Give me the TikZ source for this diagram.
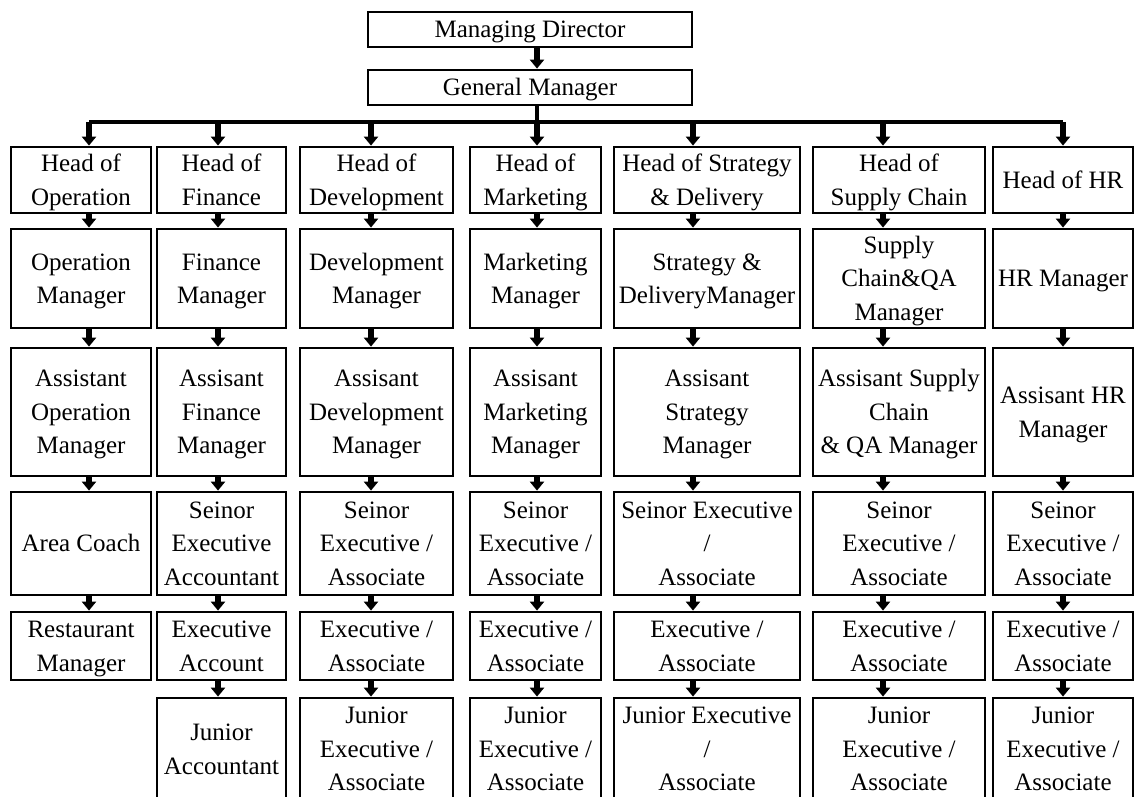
\documentclass[tikz,border=0pt]{standalone}
\usepackage{fontspec}
\setmainfont{Liberation Serif}
\usetikzlibrary{arrows.meta}
% text block centred a little below the box middle, not changing the box size
\newcommand{\boxtext}[1]{\raisebox{-8pt}[0pt][0pt]{\begin{tabular}{@{}c@{}}#1\end{tabular}}}
\tikzset{
  box/.style={draw, line width=2.8pt, inner sep=0pt,
    font=\fontsize{25}{33.5}\selectfont},
  arr/.style={-{Triangle[width=14pt,length=9pt]}, line width=5.5pt},
  bus/.style={line width=3.2pt},
  col1/.style={minimum width=140pt}, col2/.style={minimum width=129pt},
  col3/.style={minimum width=153pt}, col4/.style={minimum width=131pt},
  col5/.style={minimum width=186pt}, col6/.style={minimum width=172pt},
  col7/.style={minimum width=140pt},
  row1/.style={minimum height=66pt}, row2/.style={minimum height=99pt},
  row3/.style={minimum height=128pt}, row4/.style={minimum height=103pt},
  row5/.style={minimum height=68pt}, row6/.style={minimum height=102pt}
}
\begin{document}
\begin{tikzpicture}[x=1pt,y=-1pt]
   \clip (0,0) rectangle (1138,796);
   % top
   \node[box, minimum width=324pt, minimum height=35pt] (md) at (530,29.5) {\boxtext{Managing Director}};
   \node[box, minimum width=324pt, minimum height=35pt] (gm) at (530,87.5) {\boxtext{General Manager}};
   % heads
   \node[box,col1,row1] (h1) at (81,180) {\boxtext{Head of\\Operation}};
   \node[box,col2,row1] (h2) at (221.5,180) {\boxtext{Head of\\Finance}};
   \node[box,col3,row1] (h3) at (376.5,180) {\boxtext{Head of\\Development}};
   \node[box,col4,row1] (h4) at (535.5,180) {\boxtext{Head of\\Marketing}};
   \node[box,col5,row1] (h5) at (707,180) {\boxtext{Head of Strategy\\\& Delivery}};
   \node[box,col6,row1] (h6) at (899,180) {\boxtext{Head of\\Supply Chain}};
   \node[box,col7,row1] (h7) at (1063,180) {\boxtext{Head of HR}};
   % managers
   \node[box,col1,row2] (m1) at (81,278.5) {\boxtext{Operation\\Manager}};
   \node[box,col2,row2] (m2) at (221.5,278.5) {\boxtext{Finance\\Manager}};
   \node[box,col3,row2] (m3) at (376.5,278.5) {\boxtext{Development\\Manager}};
   \node[box,col4,row2] (m4) at (535.5,278.5) {\boxtext{Marketing\\Manager}};
   \node[box,col5,row2] (m5) at (707,278.5) {\boxtext{Strategy \&\\DeliveryManager}};
   \node[box,col6,row2] (m6) at (899,278.5) {\boxtext{Supply\\Chain\&QA\\Manager}};
   \node[box,col7,row2] (m7) at (1063,278.5) {\boxtext{HR Manager}};
   % assistants
   \node[box,col1,row3] (a1) at (81,412) {\boxtext{Assistant\\Operation\\Manager}};
   \node[box,col2,row3] (a2) at (221.5,412) {\boxtext{Assisant\\Finance\\Manager}};
   \node[box,col3,row3] (a3) at (376.5,412) {\boxtext{Assisant\\Development\\Manager}};
   \node[box,col4,row3] (a4) at (535.5,412) {\boxtext{Assisant\\Marketing\\Manager}};
   \node[box,col5,row3] (a5) at (707,412) {\boxtext{Assisant\\Strategy\\Manager}};
   \node[box,col6,row3] (a6) at (899,412) {\boxtext{Assisant Supply\\Chain\\\& QA Manager}};
   \node[box,col7,row3] (a7) at (1063,412) {\boxtext{Assisant HR\\Manager}};
   % seniors
   \node[box,col1,row4] (s1) at (81,543.5) {\boxtext{Area Coach}};
   \node[box,col2,row4] (s2) at (221.5,543.5) {\boxtext{Seinor\\Executive\\Accountant}};
   \node[box,col3,row4] (s3) at (376.5,543.5) {\boxtext{Seinor\\Executive /\\Associate}};
   \node[box,col4,row4] (s4) at (535.5,543.5) {\boxtext{Seinor\\Executive /\\Associate}};
   \node[box,col5,row4] (s5) at (707,543.5) {\boxtext{Seinor Executive\\/\\Associate}};
   \node[box,col6,row4] (s6) at (899,543.5) {\boxtext{Seinor\\Executive /\\Associate}};
   \node[box,col7,row4] (s7) at (1063,543.5) {\boxtext{Seinor\\Executive /\\Associate}};
   % executives
   \node[box,col1,row5] (e1) at (81,646) {\boxtext{Restaurant\\Manager}};
   \node[box,col2,row5] (e2) at (221.5,646) {\boxtext{Executive\\Account}};
   \node[box,col3,row5] (e3) at (376.5,646) {\boxtext{Executive /\\Associate}};
   \node[box,col4,row5] (e4) at (535.5,646) {\boxtext{Executive /\\Associate}};
   \node[box,col5,row5] (e5) at (707,646) {\boxtext{Executive /\\Associate}};
   \node[box,col6,row5] (e6) at (899,646) {\boxtext{Executive /\\Associate}};
   \node[box,col7,row5] (e7) at (1063,646) {\boxtext{Executive /\\Associate}};
   % juniors
   \node[box,col2,row6] (j2) at (221.5,749) {\boxtext{Junior\\Accountant}};
   \node[box,col3,row6] (j3) at (376.5,749) {\boxtext{Junior\\Executive /\\Associate}};
   \node[box,col4,row6] (j4) at (535.5,749) {\boxtext{Junior\\Executive /\\Associate}};
   \node[box,col5,row6] (j5) at (707,749) {\boxtext{Junior Executive\\/\\Associate}};
   \node[box,col6,row6] (j6) at (899,749) {\boxtext{Junior\\Executive /\\Associate}};
   \node[box,col7,row6] (j7) at (1063,749) {\boxtext{Junior\\Executive /\\Associate}};
   % bus
   \coordinate (b1) at (89,122);  \coordinate (b2) at (218,122);
   \coordinate (b3) at (371,122); \coordinate (b4) at (537,122);
   \coordinate (b5) at (693,122); \coordinate (b6) at (883,122);
   \coordinate (b7) at (1063,122);
   \draw[arr] (md.south -| b4) -- (gm.north -| b4);
   \draw[bus] (gm.south -| b4) -- (b4);
   \draw[bus] (b1) -- (b7);
   \foreach \c in {1,...,7}{
      \draw[arr] (b\c) -- (h\c.north -| b\c);
      \draw[arr] (h\c.south -| b\c) -- (m\c.north -| b\c);
      \draw[arr] (m\c.south -| b\c) -- (a\c.north -| b\c);
      \draw[arr] (a\c.south -| b\c) -- (s\c.north -| b\c);
      \draw[arr] (s\c.south -| b\c) -- (e\c.north -| b\c);
   }
   \foreach \c in {2,...,7}
      \draw[arr] (e\c.south -| b\c) -- (j\c.north -| b\c);
\end{tikzpicture}
\end{document}
